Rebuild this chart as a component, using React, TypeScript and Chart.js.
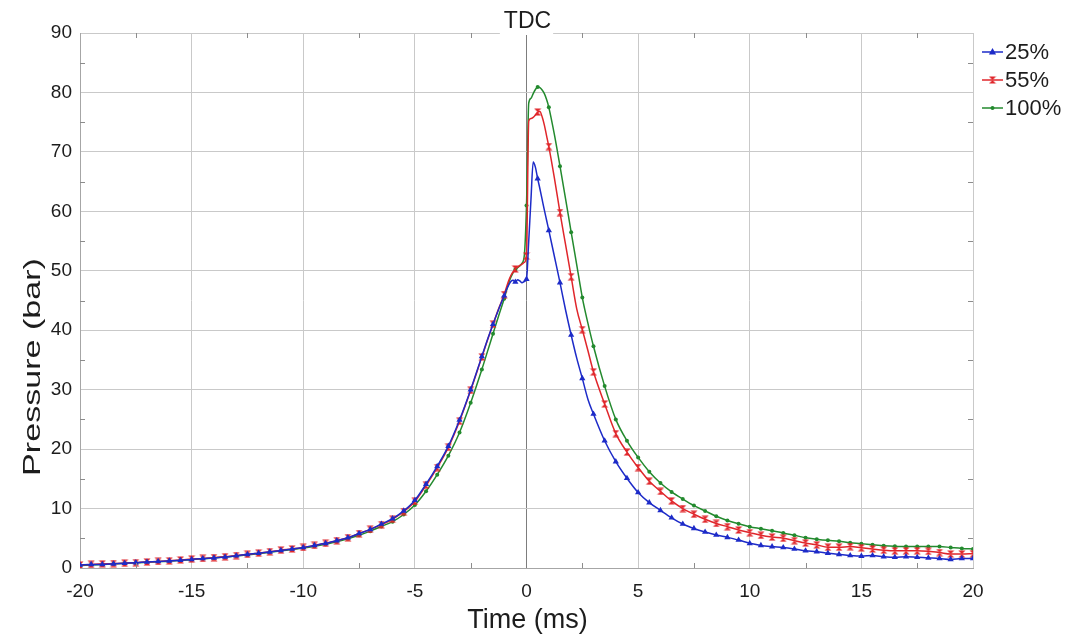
import React, { useEffect, useRef } from "react";
import { Chart, registerables } from "chart.js";

Chart.register(...registerables);

// ---- data ----
const time = [
  -20, -19.5, -19, -18.5, -18, -17.5, -17, -16.5, -16, -15.5,
  -15, -14.5, -14, -13.5, -13, -12.5, -12, -11.5, -11, -10.5,
  -10, -9.5, -9, -8.5, -8, -7.5, -7, -6.5, -6, -5.5,
  -5, -4.5, -4, -3.5, -3, -2.5, -2,
  -1.75, -1.5, -1.25,
  -1, -0.9, -0.8, -0.7, -0.6, -0.5, -0.4, -0.3, -0.2, -0.1,
  0, 0.1, 0.2, 0.3, 0.4, 0.5, 0.6, 0.7, 0.8, 0.9,
  1,
  1.25, 1.5, 1.75, 2, 2.25, 2.5, 2.75,
  3, 3.5, 4, 4.5, 5, 5.5, 6, 6.5, 7, 7.5,
  8, 8.5, 9, 9.5, 10, 10.5, 11, 11.5, 12, 12.5,
  13, 13.5, 14, 14.5, 15, 15.5, 16, 16.5, 17, 17.5,
  18, 18.5, 19, 19.5, 20,
];

const p25 = [
  0.5, 0.6, 0.6, 0.7, 0.8, 0.9, 1.0, 1.1, 1.2, 1.3,
  1.45, 1.6, 1.7, 1.85, 2.05, 2.3, 2.5, 2.7, 2.95, 3.2,
  3.45, 3.8, 4.15, 4.6, 5.1, 5.8, 6.5, 7.4, 8.3, 9.6,
  11.4, 14.1, 17.1, 20.5, 24.9, 30.0, 35.6,
  38.4, 41.0, 43.5,
  45.8, 46.8, 47.6, 48.2, 48.4, 48.1, 48.5, 48.3, 48.0, 48.2,
  48.6, 55.0, 62.0, 68.3, 67.4, 65.5, 63.8, 62.0, 60.2, 58.5,
  56.8,
  52.4, 48.0, 43.4, 39.2, 35.3, 31.9, 28.4,
  25.9, 21.4, 17.9, 15.1, 12.7, 11.0, 9.7, 8.45, 7.4, 6.65,
  6.05, 5.55, 5.15, 4.7, 4.15, 3.8, 3.6, 3.45, 3.2, 2.9,
  2.75, 2.5, 2.3, 2.1, 2.0, 2.1, 1.9, 1.8, 1.9, 1.8,
  1.7, 1.6, 1.45, 1.6, 1.6,
];

const p55 = [
  0.5, 0.6, 0.7, 0.75, 0.8, 0.9, 1.0, 1.1, 1.2, 1.35,
  1.5, 1.6, 1.75, 1.9, 2.1, 2.3, 2.5, 2.75, 3.0, 3.2,
  3.45, 3.8, 4.15, 4.6, 5.1, 5.8, 6.5, 7.3, 8.2, 9.5,
  11.2, 13.9, 16.9, 20.3, 24.7, 29.9, 35.5,
  38.3, 41.0, 43.6,
  46.0, 47.2, 48.3, 49.2, 49.8, 50.3, 50.6, 50.9, 51.1, 51.4,
  52.5, 75.2, 75.6, 75.8, 76.2, 76.7, 76.8, 75.9, 74.5, 72.7,
  70.9,
  65.6, 59.8, 54.4, 49.0, 43.6, 40.1, 36.6,
  33.0, 27.6, 22.6, 19.5, 16.9, 14.6, 12.9, 11.3, 10.0, 9.05,
  8.2, 7.5, 6.95, 6.4, 5.95, 5.5, 5.2, 5.0, 4.6, 4.2,
  3.9, 3.5, 3.5, 3.6, 3.4, 3.2, 3.0, 2.9, 2.9, 2.9,
  2.8, 2.6, 2.35, 2.35, 2.4,
];

const p100 = [
  0.4, 0.5, 0.6, 0.7, 0.8, 0.85, 0.95, 1.05, 1.15, 1.3,
  1.4, 1.55, 1.7, 1.85, 2.0, 2.2, 2.4, 2.65, 2.9, 3.1,
  3.35, 3.65, 4.0, 4.4, 4.9, 5.5, 6.2, 7.0, 7.8, 9.0,
  10.6, 12.9, 15.7, 18.9, 22.8, 27.8, 33.4,
  36.4, 39.4, 42.4,
  45.3, 46.6, 47.9, 48.9, 49.7, 50.2, 50.5, 50.8, 51.3, 52.5,
  61.0, 78.2, 79.0, 79.8, 80.5, 80.9, 80.8, 80.4, 79.8, 78.8,
  77.5,
  72.9, 67.6, 62.1, 56.5, 51.0, 45.5, 41.2,
  37.3, 30.6, 25.0, 21.4, 18.6, 16.2, 14.3, 12.8, 11.6, 10.5,
  9.6, 8.7, 8.0, 7.45, 6.95, 6.6, 6.25, 5.9, 5.5, 5.1,
  4.85, 4.65, 4.5, 4.25, 4.1, 3.9, 3.75, 3.65, 3.6, 3.6,
  3.6, 3.6, 3.45, 3.3, 3.2,
];

const seriesLabels = ["25%", "55%", "100%"];
const seriesValues = [p25, p55, p100];
const seriesColors = ["#1d2bc8", "#e0262b", "#238a2e"];
const xTitle = "Time (ms)";
const yTitle = "Pressure (bar)";
const tdcLabel = "TDC";

const FONT = '"Liberation Sans", Arial, Helvetica, sans-serif';
const TEXT = "#1c1c1c";

function makeHourglass(color: string): HTMLCanvasElement {
  const c = document.createElement("canvas");
  c.width = 8;
  c.height = 8;
  const g = c.getContext("2d")!;
  g.fillStyle = color;
  g.beginPath();
  g.moveTo(0.5, 0.5);
  g.lineTo(7.5, 0.5);
  g.lineTo(4, 4);
  g.lineTo(7.5, 7.5);
  g.lineTo(0.5, 7.5);
  g.lineTo(4, 4);
  g.closePath();
  g.fill();
  return c;
}

const onMarkerGrid = (t: number) => Math.abs(t * 2 - Math.round(t * 2)) < 1e-6;

function drawMarker(ctx: CanvasRenderingContext2D, kind: number, x: number, y: number, color: string, hg: HTMLCanvasElement) {
  ctx.fillStyle = color;
  if (kind === 0) {
    ctx.beginPath();
    ctx.moveTo(x, y - 4);
    ctx.lineTo(x + 3.6, y + 2.5);
    ctx.lineTo(x - 3.6, y + 2.5);
    ctx.closePath();
    ctx.fill();
  } else if (kind === 1) {
    ctx.drawImage(hg, x - hg.width / 2, y - hg.height / 2);
  } else {
    ctx.beginPath();
    ctx.arc(x, y, 2, 0, Math.PI * 2);
    ctx.fill();
  }
}

export default function App() {
  const ref = useRef<HTMLCanvasElement | null>(null);

  useEffect(() => {
    if (!ref.current) return;
    const hourglass = makeHourglass(seriesColors[1]);
    const styles: any[] = ["triangle", hourglass, "circle"];
    const radii = [3.6, 4, 2];

    const decorations = {
      id: "decorations",
      afterDraw(chart: any) {
        const { ctx, chartArea: ca, scales } = chart;
        const xs = scales.x;
        const ys = scales.y;
        ctx.save();
        // minor ticks on all four sides
        ctx.strokeStyle = "#8c8c8c";
        ctx.lineWidth = 1;
        ctx.beginPath();
        for (let v = -17.5; v <= 17.5; v += 5) {
          const px = Math.round(xs.getPixelForValue(v)) + 0.5;
          ctx.moveTo(px, ca.bottom);
          ctx.lineTo(px, ca.bottom - 5);
          ctx.moveTo(px, ca.top);
          ctx.lineTo(px, ca.top + 5);
        }
        for (let v = 5; v <= 85; v += 10) {
          const py = Math.round(ys.getPixelForValue(v)) + 0.5;
          ctx.moveTo(ca.left, py);
          ctx.lineTo(ca.left + 5, py);
          ctx.moveTo(ca.right, py);
          ctx.lineTo(ca.right - 5, py);
        }
        ctx.stroke();

        // TDC label breaking the top frame
        const x0 = xs.getPixelForValue(0);
        ctx.font = `23px ${FONT}`;
        const w = ctx.measureText(tdcLabel).width;
        ctx.fillStyle = "#ffffff";
        ctx.fillRect(x0 - w / 2 - 3, ca.top - 4, w + 6, 6);
        ctx.fillStyle = TEXT;
        ctx.textAlign = "center";
        ctx.textBaseline = "alphabetic";
        ctx.fillText(tdcLabel, x0 + 1, ca.top - 5);

        // axis titles
        ctx.font = `27px ${FONT}`;
        ctx.fillText(xTitle, (ca.left + ca.right) / 2 + 1, 628);

        ctx.save();
        ctx.translate(33, 367);
        ctx.rotate(-Math.PI / 2);
        ctx.scale(1.42, 1);
        ctx.font = `24px ${FONT}`;
        ctx.textBaseline = "middle";
        ctx.fillText(yTitle, 0, 0);
        ctx.restore();

        // legend
        ctx.font = `22px ${FONT}`;
        ctx.textAlign = "left";
        ctx.textBaseline = "middle";
        for (let i = 0; i < seriesLabels.length; i++) {
          const yc = ca.top + 19 + i * 28;
          const lx = ca.right + 9;
          ctx.strokeStyle = seriesColors[i];
          ctx.lineWidth = 1.5;
          ctx.beginPath();
          ctx.moveTo(lx, yc);
          ctx.lineTo(lx + 21, yc);
          ctx.stroke();
          drawMarker(ctx, i, lx + 10.5, yc, seriesColors[i], hourglass);
          ctx.fillStyle = TEXT;
          ctx.fillText(seriesLabels[i], lx + 23, yc + 1);
        }
        ctx.restore();
      },
    };

    const gridColor = (c: any) => (c.tick && c.tick.value === 0 ? "#7d7d7d" : "#c9c9c9");

    const chart = new Chart(ref.current, {
      type: "line",
      data: {
        datasets: seriesLabels.map((label, i) => ({
          label,
          data: time.map((t, k) => ({ x: t, y: seriesValues[i][k] })),
          borderColor: seriesColors[i],
          backgroundColor: seriesColors[i],
          borderWidth: 1.5,
          pointStyle: styles[i],
          pointRadius: (c: any) => (onMarkerGrid(time[c.dataIndex]) ? radii[i] : 0),
          pointBorderWidth: 0,
          pointHoverRadius: 0,
          cubicInterpolationMode: "monotone" as const,
          fill: false,
        })),
      },
      options: {
        responsive: false,
        animation: false,
        devicePixelRatio: 1,
        layout: { padding: { top: 33, right: 99, left: 0, bottom: 0 } },
        plugins: { legend: { display: false }, tooltip: { enabled: false } },
        scales: {
          x: {
            type: "linear",
            min: -20,
            max: 20,
            ticks: { stepSize: 5, padding: 12, maxRotation: 0, color: TEXT, font: { family: FONT, size: 19 } },
            grid: { color: gridColor, drawTicks: false, lineWidth: 1 },
            border: { color: "#a6a6a6" },
            afterFit: (s: any) => {
              s.height = 66;
            },
          },
          y: {
            type: "linear",
            min: 0,
            max: 90,
            ticks: { stepSize: 10, padding: 8, color: TEXT, font: { family: FONT, size: 19 } },
            grid: { color: "#c9c9c9", drawTicks: false, lineWidth: 1 },
            border: { color: "#a6a6a6" },
            afterFit: (s: any) => {
              s.width = 80;
            },
          },
        },
      },
      plugins: [decorations],
    } as any);

    return () => chart.destroy();
  }, []);

  return (
    <div style={{ position: "absolute", left: 0, top: 0, width: 1072, height: 634, background: "#fff" }}>
      <canvas ref={ref} width={1072} height={634} style={{ display: "block" }} />
    </div>
  );
}
